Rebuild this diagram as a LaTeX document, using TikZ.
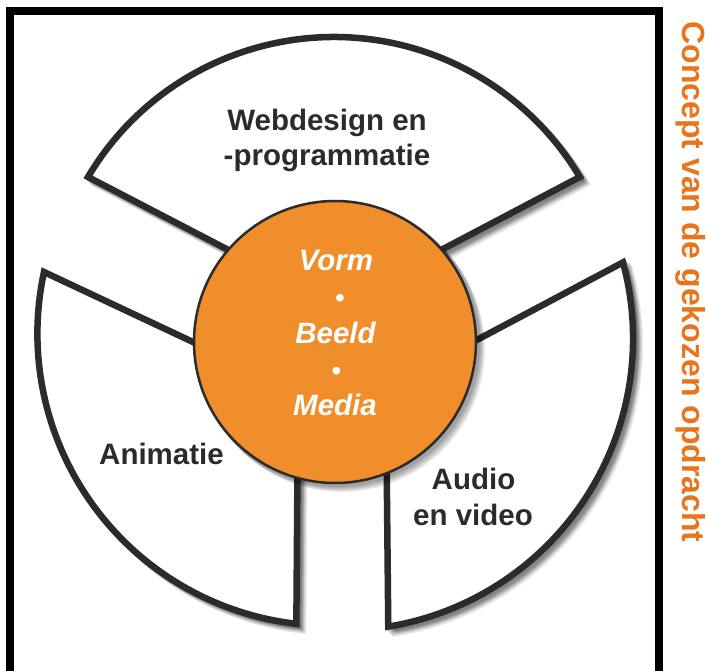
\documentclass[tikz,border=0pt]{standalone}
\usepackage{fontspec}
\setmainfont{Liberation Sans}
\definecolor{orangefill}{HTML}{F08E2C}
\definecolor{titleorange}{HTML}{E8741C}
\definecolor{ink}{HTML}{2B2B2D}
\begin{document}
\begin{tikzpicture}[x=1pt,y=-1pt, line join=miter,
  sector/.style={fill=white, draw=ink, line width=6.5pt},
  shade/.style={fill=black, draw=black, line width=6pt, opacity=0.075},
  label/.style={text=ink, font=\fontsize{29.5}{35}\selectfont\bfseries, inner sep=0pt, anchor=base},
  core/.style={text=white, font=\fontsize{29.5}{35}\selectfont\bfseries\itshape, inner sep=0pt, anchor=base},
  bul/.style={text=white, font=\fontsize{28}{32}\selectfont, inner sep=0pt, anchor=base},
]
\useasboundingbox (0,0) rectangle (707,671);
\clip (0,0) rectangle (707,671);
\fill[white] (0,0) rectangle (707,671);
\def\toppath{(88,177) arc[start angle=-149.3, end angle=-30.7, radius=286] -- (410,266.4) -- (260,266.4) -- cycle}
\def\leftpath{(44,272) arc[start angle=192.2, end angle=96.5, radius=292] -- (298,400) -- (260,373.5) -- cycle}
\def\rightpath{(623,262.4) arc[start angle=-15.1, end angle=80.7, radius=292] -- (386,400) -- (410,375.4) -- cycle}
% frame
\draw[black, line width=8pt] (9.5,11.5) rectangle (659,720);
% shadows
\foreach \d in {2,3,4,5,6,7} {
  \path[shade, shift={(\d,\d)}] \toppath;
  \path[shade, shift={(\d,\d)}] \leftpath;
  \path[shade, shift={(\d,\d)}] \rightpath;
}
% sectors
\draw[sector] \toppath;
\draw[sector] \leftpath;
\draw[sector] \rightpath;
% core circle shadow
\foreach \d in {2,3,4,5,6,7} {
  \fill[black, opacity=0.07] (335+\d,342+\d) circle[radius=143];
}
\node[circle, fill=orangefill, draw=ink, line width=2.5pt, minimum size=282pt, inner sep=0pt] (core) at (335,342) {};
% labels
\node[label] (web1) at (327,130.5) {Webdesign en};
\node[label] (web2) at (327,166) {-programmatie};
\node[label] (anim) at (161.5,464) {Animatie};
\node[label] (audio) at (473.5,489) {Audio};
\node[label] (video) at (473,525) {en video};
\node[core] (vorm) at (336,270.7) {Vorm};
\node[bul] (dot1) at (340,307.7) {•};
\node[bul] (dot2) at (336.5,380.4) {•};
\node[core] (beeld) at (335.5,343) {Beeld};
\node[core] (media) at (335,415) {Media};
\node[rotate=-90, anchor=base, text=titleorange, font=\fontsize{32}{36}\selectfont\bfseries, inner sep=0pt] (title) at (682,282) {Concept van de gekozen opdracht};
\end{tikzpicture}
\end{document}
